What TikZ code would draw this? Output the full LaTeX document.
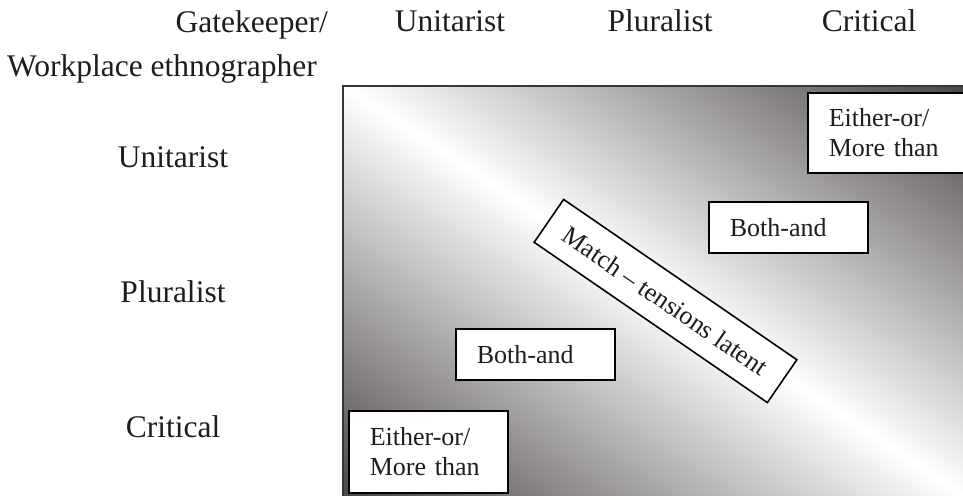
\documentclass[tikz,border=0pt]{standalone}
\usepackage{fontspec}
\setmainfont{Liberation Serif}
\definecolor{dk}{RGB}{76,70,70}
\definecolor{txt}{RGB}{30,28,28}
\definecolor{bord}{RGB}{55,55,55}
\tikzset{
  lab/.style={font=\fontsize{31.5}{37}\selectfont, text=txt, inner sep=0pt},
  cell/.style={draw=black, line width=1.6pt, fill=white, text=txt,
    font=\fontsize{26}{30}\selectfont, inner xsep=21pt, inner ysep=0pt,
    align=left, anchor=north west},
  matchbox/.style={draw=black, line width=1.6pt, fill=white, text=txt,
    font=\fontsize{26}{30}\selectfont, inner sep=0pt,
    minimum width=283pt, minimum height=52pt}
}
\begin{document}
\begin{tikzpicture}[x=1pt,y=-1pt]
\useasboundingbox (0,0) rectangle (963,495);
% shaded field
\begin{scope}
  \clip (343,86) rectangle (970,500);
  \begin{scope}[transform canvas={rotate around={-33.42:(653,290.5)}}]
    \shade[top color=dk, bottom color=dk, middle color=white]
      (-100,-51) rectangle (1406,632);
  \end{scope}
\end{scope}
\draw[draw=bord, line width=1.5pt] (343,86) rectangle (968,500);
% headers
\node[lab, anchor=base east] (gk) at (328,33) {Gatekeeper/};
\node[lab, anchor=base west] (we) at (7,77) {Workplace ethnographer};
\node[lab, anchor=base] (cu) at (450,32) {Unitarist};
\node[lab, anchor=base] (cp) at (660,32) {Pluralist};
\node[lab, anchor=base] (cc) at (869,32) {Critical};
\node[lab, anchor=base] (ru) at (173,167) {Unitarist};
\node[lab, anchor=base] (rp) at (173,302) {Pluralist};
\node[lab, anchor=base] (rc) at (173,437) {Critical};
% boxes
\node[cell, text width=128pt, minimum height=80pt] (eo1) at (807,92) {Either-or/\\More than};
\node[cell, text width=117pt, minimum height=51pt] (ba1) at (708,201) {Both-and};
\node[cell, text width=117pt, minimum height=51pt] (ba2) at (455,328) {Both-and};
\node[cell, text width=117pt, minimum height=82pt] (eo2) at (348,410) {Either-or/\\More than};
\node[matchbox, rotate=-34.5] (match) at (665.5,301) {Match -- tensions latent};
\end{tikzpicture}
\end{document}
